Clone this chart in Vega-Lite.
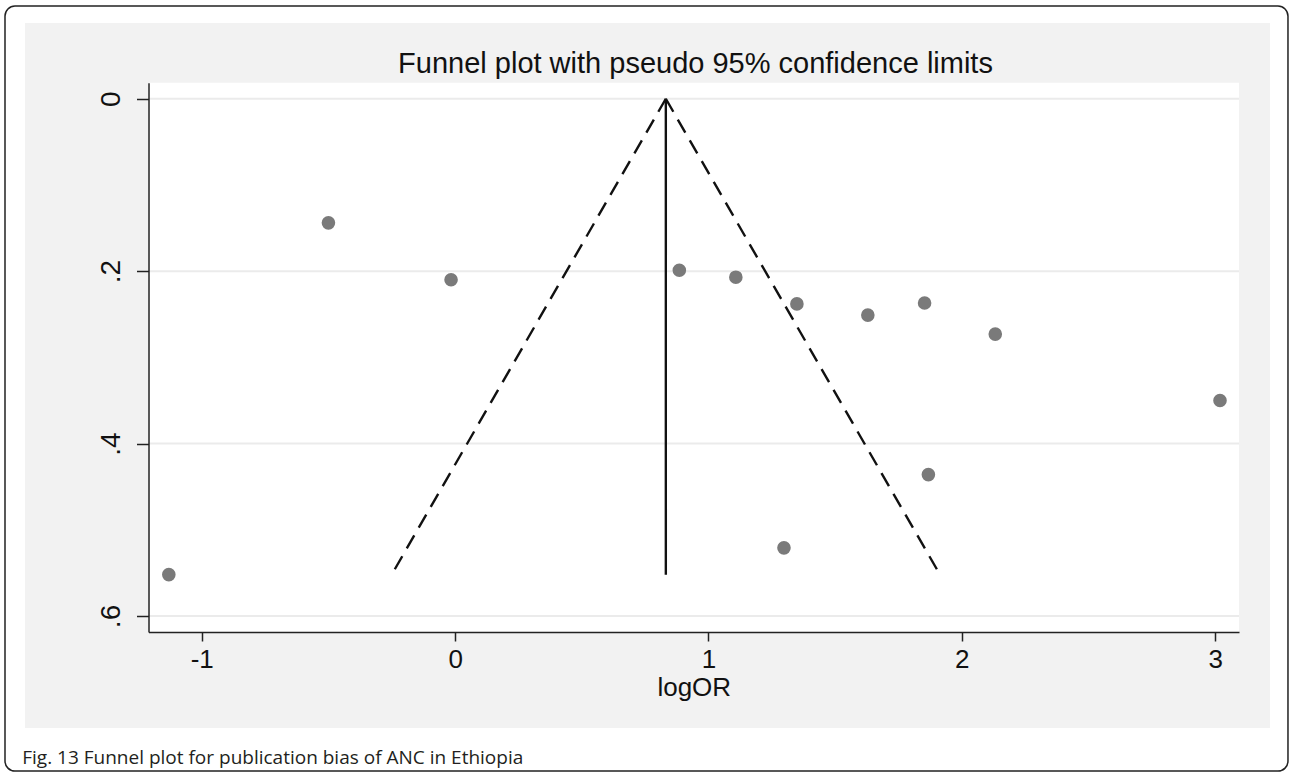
{
  "$schema": "https://vega.github.io/schema/vega-lite/v6.json",
  "background": "white",
  "padding": {"left": 4, "top": 5, "right": 3, "bottom": 0},
  "title": {
    "text": "Fig. 13 Funnel plot for publication bias of ANC in Ethiopia",
    "orient": "bottom", "anchor": "start", "font": "Open Sans", "fontSize": 19,
    "fontWeight": "normal", "color": "#231f20", "offset": -23, "dx": 18
  },
  "config": {
    "view": {"fill": "#f2f2f2", "stroke": null},
    "font": "Liberation Sans"
  },
  "datasets": {
    "studies": [
      {"logOR": -1.130, "se": 0.552},
      {"logOR": -0.500, "se": 0.144},
      {"logOR": -0.016, "se": 0.210},
      {"logOR": 0.885, "se": 0.199},
      {"logOR": 1.108, "se": 0.207},
      {"logOR": 1.349, "se": 0.238},
      {"logOR": 1.629, "se": 0.251},
      {"logOR": 1.853, "se": 0.237},
      {"logOR": 2.132, "se": 0.273},
      {"logOR": 3.019, "se": 0.350},
      {"logOR": 1.868, "se": 0.436},
      {"logOR": 1.298, "se": 0.521}
    ],
    "funnel": [
      {"logOR": 0.8317, "se": 0, "line": "pooled"},
      {"logOR": 0.8317, "se": 0.5522, "line": "pooled"},
      {"logOR": 0.8317, "se": 0, "line": "lower"},
      {"logOR": -0.2506, "se": 0.5522, "line": "lower"},
      {"logOR": 0.8317, "se": 0, "line": "upper"},
      {"logOR": 1.914, "se": 0.5522, "line": "upper"}
    ],
    "grid": [{"se": 0}, {"se": 0.2}, {"se": 0.4}, {"se": 0.6}]
  },
  "vconcat": [
    {
      "width": 1245,
      "height": 705,
      "title": {
        "text": "Funnel plot with pseudo 95% confidence limits",
        "fontSize": 29, "font": "Liberation Sans", "fontWeight": "normal",
        "color": "#111111", "anchor": "middle", "offset": -74, "dx": 48
      },
      "layer": [
        {
          "data": {"values": [{}]},
          "mark": {"type": "rect", "fill": "transparent", "stroke": "#222222", "strokeWidth": 1.5, "cornerRadius": 10},
          "encoding": {
            "x": {"datum": -1.7766, "type": "quantitative"},
            "x2": {"datum": 3.2873},
            "y": {"datum": -0.1076, "type": "quantitative"},
            "y2": {"datum": 0.7799}
          }
        },
        {
          "data": {"values": [{}]},
          "mark": {"type": "rect", "fill": "white"},
          "encoding": {
            "x": {"datum": -1.2102, "type": "quantitative"},
            "x2": {"datum": 3.094},
            "y": {"datum": -0.0186, "type": "quantitative"},
            "y2": {"datum": 0.6186}
          }
        },
        {
          "data": {"name": "grid"},
          "mark": {"type": "rule", "color": "#ebebeb", "strokeWidth": 2},
          "encoding": {
            "y": {"field": "se", "type": "quantitative"},
            "x": {"datum": -1.2102, "type": "quantitative"},
            "x2": {"datum": 3.094}
          }
        },
        {
          "data": {"name": "funnel"},
          "mark": {"type": "line", "color": "#111111", "strokeWidth": 2.4},
          "encoding": {
            "x": {"field": "logOR", "type": "quantitative"},
            "y": {"field": "se", "type": "quantitative"},
            "detail": {"field": "line"},
            "order": {"field": "se"},
            "strokeDash": {
              "field": "line", "type": "nominal",
              "scale": {"domain": ["pooled", "lower", "upper"], "range": [[1, 0], [15, 9], [15, 9]]},
              "legend": null
            }
          }
        },
        {
          "data": {"name": "studies"},
          "mark": {"type": "circle", "color": "#7a7a7a", "opacity": 1, "size": 185},
          "encoding": {
            "x": {
              "field": "logOR", "type": "quantitative",
              "scale": {"domain": [-1.2102, 3.094], "range": [123.5, 1214], "nice": false, "zero": false},
              "axis": {
                "values": [-1, 0, 1, 2, 3], "offset": -96, "grid": false,
                "labelExpr": "'' + datum.value",
                "tickSize": 9, "tickWidth": 1.5, "tickColor": "#222222",
                "domainColor": "#222222", "domainWidth": 1.5,
                "labelFontSize": 26, "labelColor": "#111111", "labelPadding": 5,
                "title": "logOR", "titleFontSize": 26, "titleFontWeight": "normal",
                "titleColor": "#111111", "titlePadding": 2, "zindex": 1
              }
            },
            "y": {
              "field": "se", "type": "quantitative",
              "scale": {"domain": [-0.0186, 0.6186], "range": [59.7, 609], "nice": false, "zero": false},
              "axis": {
                "values": [0, 0.2, 0.4, 0.6], "offset": -123.5, "grid": false,
                "labelExpr": "datum.value == 0 ? '0' : replace(format(datum.value, '.1f'), '0.', '.')",
                "labelAngle": -90, "labelAlign": "center", "labelBaseline": "bottom",
                "tickSize": 12, "tickWidth": 1.5, "tickColor": "#222222",
                "domainColor": "#222222", "domainWidth": 1.5,
                "labelFontSize": 28, "labelColor": "#111111", "labelPadding": 11,
                "title": null, "zindex": 1
              }
            }
          }
        }
      ]
    }
  ]
}
